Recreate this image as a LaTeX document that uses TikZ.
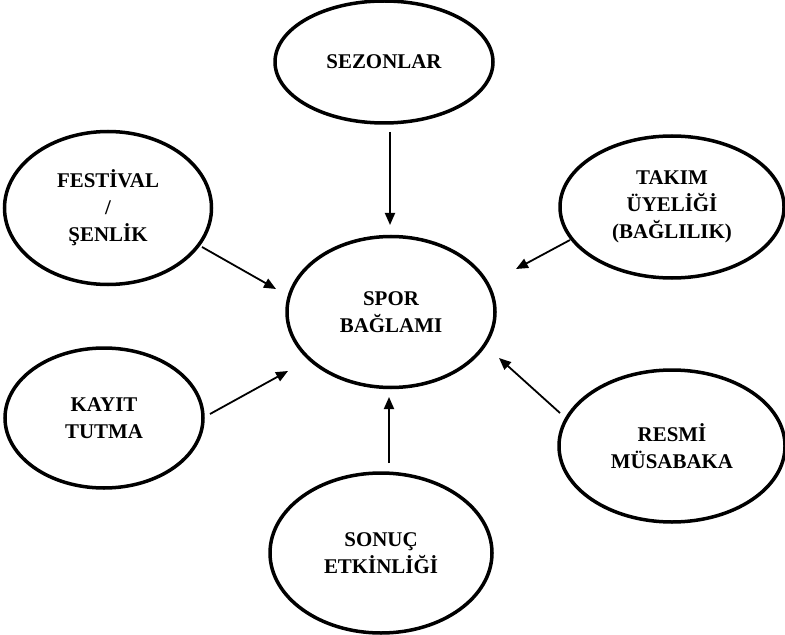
\documentclass[tikz,border=0pt]{standalone}
\usepackage{fontspec}
\setmainfont{Liberation Serif}
\usepackage{tikz}
\usetikzlibrary{positioning,arrows.meta,shapes.geometric}
\tikzset{
  bubble/.style={ellipse,draw,line width=3.5bp,inner sep=0pt,align=center,
    font=\fontsize{21}{27}\selectfont\bfseries},
  feed/.style={line width=1.8bp,-{Triangle[length=12bp,width=10bp]}}
}

\begin{document}
\begin{tikzpicture}[x=1bp,y=-1bp]
  \useasboundingbox (0,0) rectangle (785,635);
  % the centre
  \node[bubble,minimum width=208bp,minimum height=151bp] (spor) at (391,312) {SPOR\\BAĞLAMI};
  % the six around it
  \node[bubble,minimum width=218bp,minimum height=122bp] (sezon) at (384,62) {SEZONLAR};
  \node[bubble,minimum width=207bp,minimum height=153bp] (festival) at (108,208) {FESTİVAL\\/\\ŞENLİK};
  \node[bubble,minimum width=224bp,minimum height=142bp] (takim) at (672,207) {TAKIM\\ÜYELİĞİ\\(BAĞLILIK)};
  \node[bubble,minimum width=198bp,minimum height=140bp] (kayit) at (104,418) {KAYIT\\TUTMA};
  \node[bubble,minimum width=226bp,minimum height=152bp] (resmi) at (672,446) {RESMİ\\MÜSABAKA};
  \node[bubble,minimum width=222bp,minimum height=160bp] (sonuc) at (381,553) {SONUÇ\\ETKİNLİĞİ};

  % arrow ends (they stop short of the ellipses)
  \coordinate (sezonA) at (390,132);   \coordinate (sezonB) at (390,225);
  \coordinate (festA) at (202,247);    \coordinate (festB) at (276,289);
  \coordinate (takimA) at (570,240);   \coordinate (takimB) at (516,269);
  \coordinate (kayitA) at (210,414);   \coordinate (kayitB) at (288,371);
  \coordinate (resmiA) at (560,413);   \coordinate (resmiB) at (499,358);
  \coordinate (sonucA) at (389,463);   \coordinate (sonucB) at (389,397);

  \draw[feed] (sezonA) -- (sezonB);
  \draw[feed] (festA) -- (festB);
  \draw[feed] (takimA) -- (takimB);
  \draw[feed] (kayitA) -- (kayitB);
  \draw[feed] (resmiA) -- (resmiB);
  \draw[feed] (sonucA) -- (sonucB);
\end{tikzpicture}
\end{document}
